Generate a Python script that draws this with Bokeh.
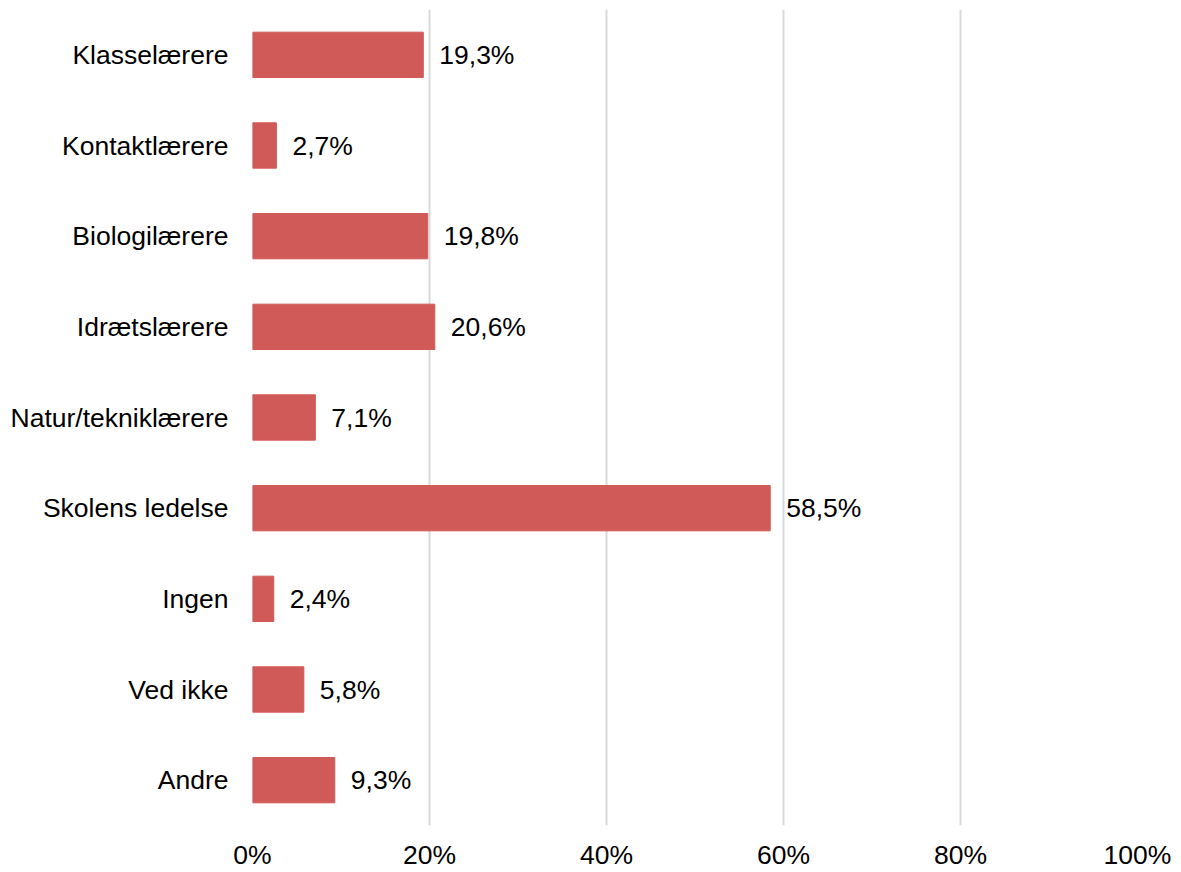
from bokeh.plotting import figure
from bokeh.models import ColumnDataSource, FixedTicker, CustomJSTickFormatter, LabelSet
from bokeh.core.properties import value
from bokeh.embed import file_html
from bokeh.resources import INLINE

categories = ["Klasselærere", "Kontaktlærere", "Biologilærere", "Idrætslærere",
              "Natur/tekniklærere", "Skolens ledelse", "Ingen", "Ved ikke", "Andre"]
values = [19.3, 2.7, 19.8, 20.6, 7.1, 58.5, 2.4, 5.8, 9.3]
labels = ["19,3%", "2,7%", "19,8%", "20,6%", "7,1%", "58,5%", "2,4%", "5,8%", "9,3%"]
x_ticks = [0, 20, 40, 60, 80, 100]

FONT = "Liberation Sans"
FS = "26.5px"

src = ColumnDataSource(dict(cat=categories, val=values, lab=labels))

p = figure(y_range=list(reversed(categories)), x_range=(0, 100),
           width=1173, height=872, output_backend="svg", toolbar_location=None,
           min_border_left=252, min_border_right=36, min_border_top=9, min_border_bottom=30)

p.hbar(y="cat", right="val", left=0, height=0.5, source=src, color="#D05A58")

p.add_layout(LabelSet(x="val", y="cat", text="lab", source=src, x_offset=16,
                      text_baseline="middle", text_font=value(FONT), text_font_size=value(FS),
                      text_color="#000000"))

p.outline_line_color = None
p.ygrid.grid_line_color = None
p.xgrid.grid_line_color = "#D9D9D9"
p.xgrid.grid_line_width = 2
p.xaxis.ticker = FixedTicker(ticks=x_ticks)
p.xaxis.formatter = CustomJSTickFormatter(code="return tick + '%';")
for ax in (p.xaxis[0], p.yaxis[0]):
    ax.axis_line_color = None
    ax.major_tick_line_color = None
    ax.minor_tick_line_color = None
    ax.major_label_text_font = FONT
    ax.major_label_text_font_size = FS
    ax.major_label_text_color = "#000000"
p.xaxis.major_label_standoff = 8
p.yaxis.major_label_standoff = 18

open("out.html", "w").write(file_html(p, INLINE))
